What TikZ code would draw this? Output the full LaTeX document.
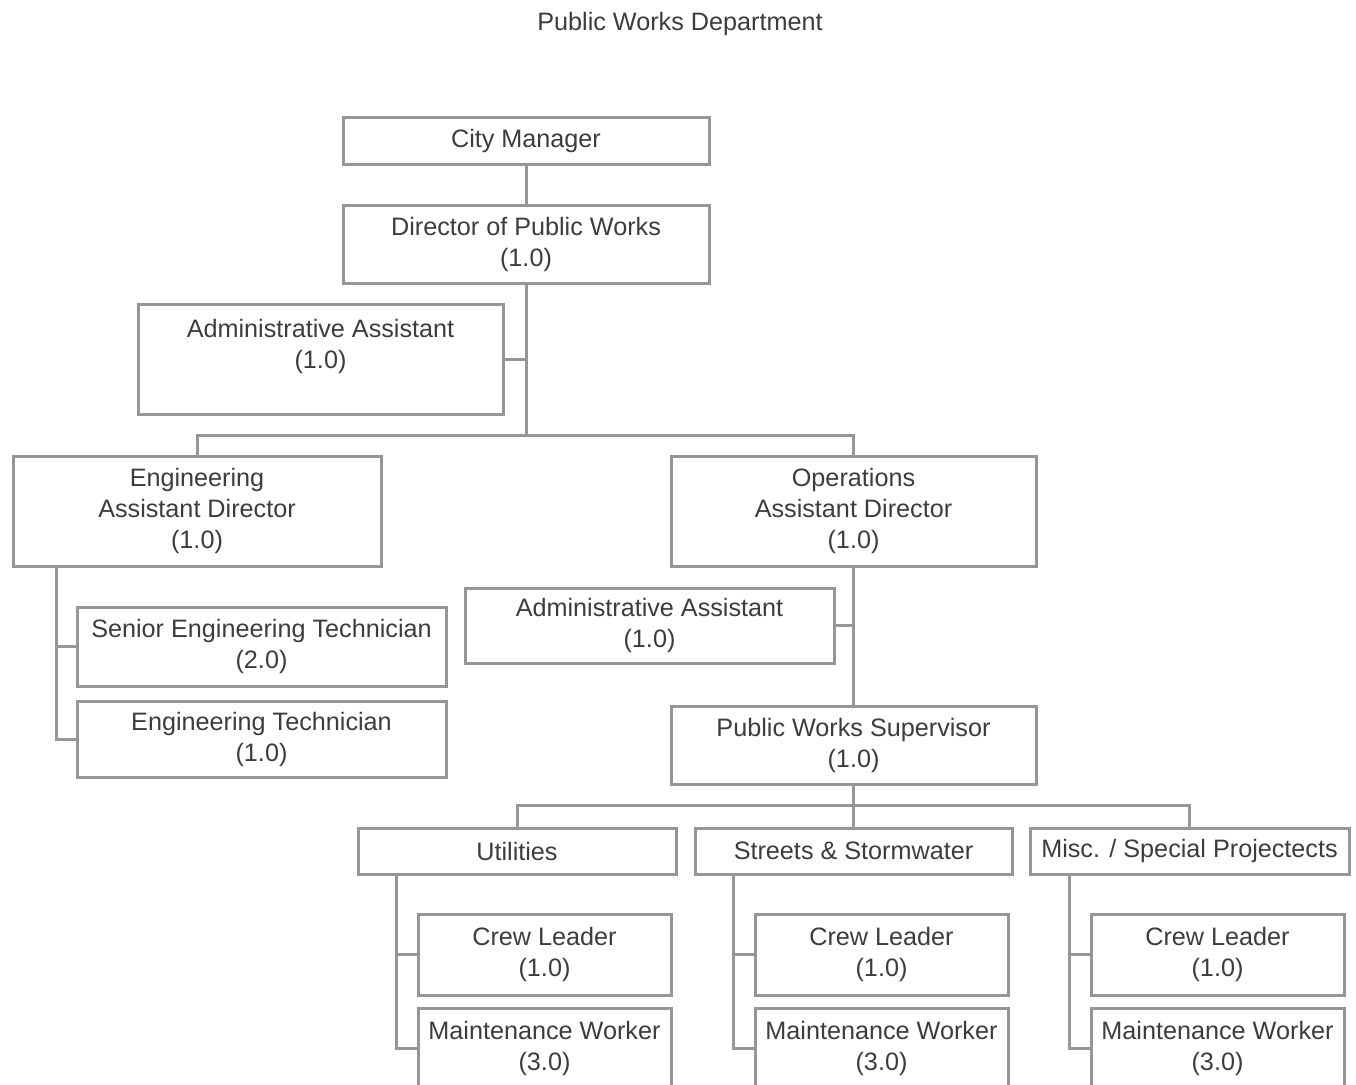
\documentclass[tikz,border=0pt]{standalone}
\usepackage{fontspec}
\setmainfont{Liberation Sans}
\definecolor{rim}{RGB}{150,150,150}
\definecolor{ink}{RGB}{60,60,60}
\begin{document}
\begin{tikzpicture}[x=0.5pt,y=-0.5pt]
        \tikzstyle{post}=[draw=rim,line width=1.5pt,inner sep=0pt,align=center,
          font=\fontsize{12.6}{15.5}\selectfont,text=ink]
        \tikzstyle{link}=[draw=rim,line width=1.5pt]
        \clip (0,0) rectangle (1356,1084);

        \node[font=\fontsize{12.6}{15.5}\selectfont,text=ink] (title) at (680,24) {Public Works Department};

        \node[post,minimum width=183pt,minimum height=23.5pt] (cm) at (526,141) {City Manager};
        \node[post,minimum width=183pt,minimum height=39pt] (dir) at (526,244) {Director of Public Works\\(1.0)};
        \node[post,minimum width=182.5pt,minimum height=55pt] (adm1) at (320.5,359) {Administrative Assistant\\(1.0)\\~};

        \node[post,minimum width=184pt,minimum height=55pt] (eng) at (197,511) {Engineering\\Assistant Director\\(1.0)};
        \node[post,minimum width=182.5pt,minimum height=55pt] (ops) at (853.5,511) {Operations\\Assistant Director\\(1.0)};

        \node[post,minimum width=184.5pt,minimum height=39.5pt] (set) at (261.5,646.5) {Senior Engineering Technician\\(2.0)};
        \node[post,minimum width=184.5pt,minimum height=38pt] (et) at (261.5,739) {Engineering Technician\\(1.0)};

        \node[post,minimum width=184.5pt,minimum height=37.5pt] (adm2) at (649.5,625.5) {Administrative Assistant\\(1.0)};
        \node[post,minimum width=182.5pt,minimum height=39pt] (pws) at (853.5,745) {Public Works Supervisor\\(1.0)};

        \node[post,minimum width=159pt,minimum height=23pt] (util) at (517,851) {Utilities};
        \node[post,minimum width=158.5pt,minimum height=23pt] (str) at (853.5,851) {Streets \& Stormwater};
        \node[post,minimum width=159.5pt,minimum height=23pt] (misc) at (1189.5,851) {Misc. / Special Projectects};

        \node[post,minimum width=126.5pt,minimum height=40.5pt] (cl1) at (544.5,954.5) {Crew Leader\\(1.0)};
        \node[post,minimum width=126.5pt,minimum height=40.5pt] (cl2) at (881.5,954.5) {Crew Leader\\(1.0)};
        \node[post,minimum width=126.5pt,minimum height=40.5pt] (cl3) at (1217.5,954.5) {Crew Leader\\(1.0)};
        \node[post,minimum width=126.5pt,minimum height=40pt] (mw1) at (544.5,1048) {Maintenance Worker\\(3.0)};
        \node[post,minimum width=126.5pt,minimum height=40pt] (mw2) at (881.5,1048) {Maintenance Worker\\(3.0)};
        \node[post,minimum width=126.5pt,minimum height=40pt] (mw3) at (1217.5,1048) {Maintenance Worker\\(3.0)};

        \coordinate (j1) at (526,435);
        \coordinate (j2) at (853.5,805);

        \draw[link] (cm) -- (dir);
        \draw[link] (dir.south) -- (j1);
        \draw[link] (adm1.east) -- (adm1.east -| dir.south);
        \draw[link] (eng.north) |- (j1) -| (ops.north);

        \draw[link] ([xshift=22.5pt]eng.south west) |- (set.west);
        \draw[link] ([xshift=22.5pt]eng.south west) |- (et.west);

        \draw[link] (ops) -- (pws);
        \draw[link] (adm2.east) -- (adm2.east -| ops.south);

        \draw[link] (pws) -- (str);
        \draw[link] (util.north) |- (j2) -| (misc.north);

        \draw[link] ([xshift=20pt]util.south west) |- (cl1.west);
        \draw[link] ([xshift=20pt]util.south west) |- (mw1.west);
        \draw[link] ([xshift=20pt]str.south west) |- (cl2.west);
        \draw[link] ([xshift=20pt]str.south west) |- (mw2.west);
        \draw[link] ([xshift=20.5pt]misc.south west) |- (cl3.west);
        \draw[link] ([xshift=20.5pt]misc.south west) |- (mw3.west);
    \end{tikzpicture}
\end{document}
